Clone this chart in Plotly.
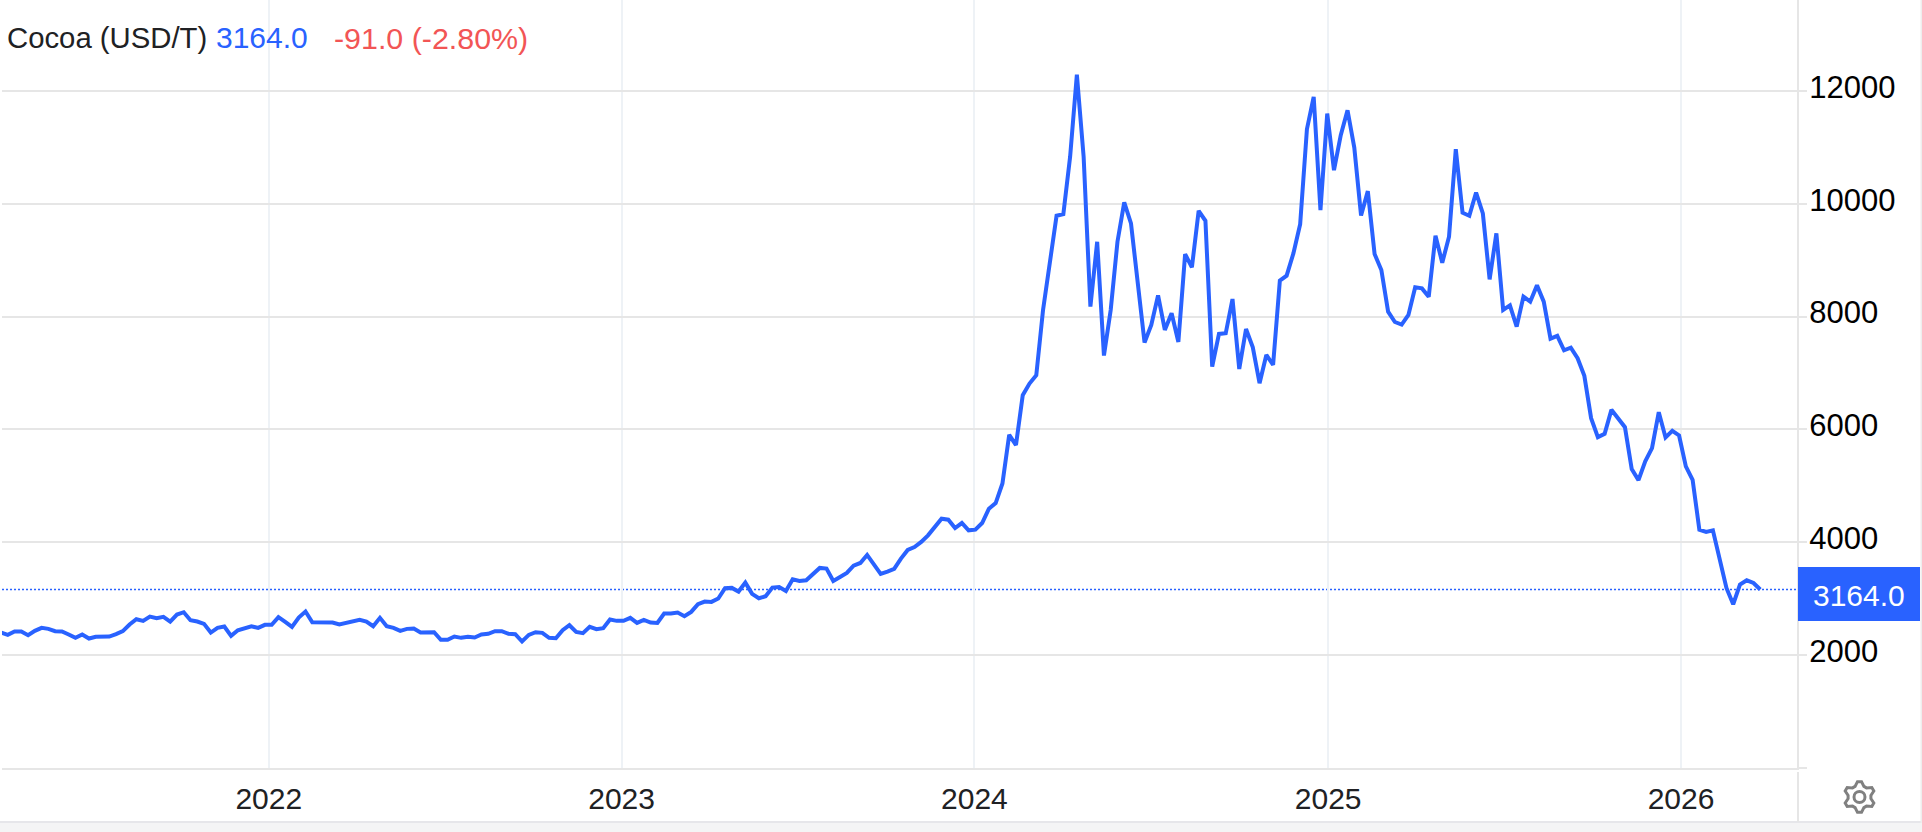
import math
import pandas as pd
import plotly.graph_objects as go

SERIES_NAME = "Cocoa (USD/T)"
LAST_VALUE = 3164.0
CHANGE_TEXT = "-91.0 (-2.80%)"
LAST_DATE = "2026-03-24"
YEAR_TICKS = ["2022-01-01", "2023-01-01", "2024-01-01", "2025-01-01", "2026-01-01"]
YEAR_LABELS = ["2022", "2023", "2024", "2025", "2026"]
Y_TICKS = [0, 2000, 4000, 6000, 8000, 10000, 12000]
Y_LABELS = ["", "2000", "4000", "6000", "8000", "10000", "12000"]

values_2021 = [2401, 2360, 2419, 2419, 2354, 2431, 2484, 2466, 2425, 2419, 2366, 2307, 2366, 2295, 2325, 2330,
               2330, 2372, 2425, 2543, 2637, 2608, 2684, 2655, 2678, 2596, 2720, 2761, 2620, 2596, 2555, 2401,
               2484, 2507, 2342, 2442, 2472, 2513, 2484, 2537, 2537, 2673, 2590, 2501, 2667, 2773, 2584, 2584, 2590]
values_2022 = [2578, 2543, 2566, 2602, 2625, 2596, 2513, 2661, 2513, 2484, 2431, 2466, 2472, 2401, 2401, 2407,
               2271, 2271, 2330, 2307, 2325, 2313, 2366, 2378, 2425, 2425, 2378, 2372, 2242, 2360, 2407, 2395,
               2307, 2301, 2442, 2531, 2413, 2389, 2501, 2460, 2478, 2631, 2608, 2608, 2661, 2572, 2625, 2578, 2572]
values_2023 = [2737, 2737, 2755, 2690, 2767, 2903, 2950, 2944, 3003, 3186, 3192, 3127, 3286, 3086, 3009, 3044,
               3198, 3209, 3139, 3345, 3316, 3327, 3440, 3546, 3534, 3316, 3386, 3457, 3587, 3634, 3776, 3611,
               3440, 3481, 3528, 3711, 3864, 3917, 4006, 4124, 4283, 4419, 4401, 4254, 4342, 4212, 4224, 4342,
               4596, 4696]
values_2024 = [5044, 5906, 5723, 6608, 6814, 6962, 8118, 9003, 9788, 9817, 10832, 12290, 10832, 8177, 9327, 7310,
               8118, 9327, 10024, 9652, 8590, 7540, 7852, 8377, 7764, 8059, 7551, 9109, 8873, 9876, 9699, 7115,
               7693, 7705, 8312, 7073, 7781, 7457, 6820, 7321, 7144, 8637, 8726, 9121, 9640, 11322, 11894, 9888,
               11599, 10596, 11215, 11658, 10997]
values_2025 = [9793, 10224, 9109, 8826, 8088, 7905, 7858, 8029, 8519, 8501, 8354, 9434, 8956, 9416, 10968, 9841,
               9788, 10200, 9829, 8661, 9475, 8118, 8200, 7823, 8354, 8265, 8554, 8265, 7610, 7658, 7404, 7451,
               7262, 6950, 6200, 5864, 5923, 6348, 6183, 6041, 5298, 5103, 5434, 5670, 6307, 5858, 5976, 5894]
values_2026 = [5345, 5109, 4224, 4183, 4212, 3693, 3192, 2902, 3250, 3327, 3280, 3164]

values = values_2021 + values_2022 + values_2023 + values_2024 + values_2025 + values_2026
dates = pd.date_range(end=LAST_DATE, periods=len(values), freq="7D")

W, H = 1922, 832
L, R, B = 2, 1797, 768
BLUE = "#2962ff"
GRID = "#e6e6e6"
VGRID = "#eef2f6"


def px(x):
    return (x - L) / (R - L)


def py(y):
    return 1 - y / B


def rect(x0, y0, x1, y1, color, layer="above"):
    return dict(type="rect", xref="paper", yref="paper", x0=px(x0), x1=px(x1), y0=py(y0), y1=py(y1),
                fillcolor=color, line_width=0, layer=layer)


def gear_path(cx, cy, r_out, r_in, teeth=6):
    pts = []
    n = teeth * 4
    for i in range(n):
        a = 2 * math.pi * (i - 0.5) / n - math.pi / 2
        r = r_out if i % 4 in (0, 1) else r_in
        pts.append((cx + r * math.cos(a), cy + r * math.sin(a)))
    return "M " + " L ".join(f"{px(x):.5f},{py(y):.5f}" for x, y in pts) + " Z"


shapes = [
    rect(0, 7, 535, 75, "white", "below"),
    dict(type="line", xref="paper", yref="y", x0=0, x1=1, y0=LAST_VALUE, y1=LAST_VALUE,
         line=dict(color=BLUE, width=1.5, dash="2px,2px"), layer="below"),
    rect(1798, 567, 1920, 621, BLUE),
    rect(0, 822, W, 832, "#f4f4f5"),
    rect(0, 821, W, 823, "#e6e6ea"),
    rect(1797, 772, 1799, 822, GRID),
    rect(1920.5, 0, 1922, 823, "#eeeeee"),
    dict(type="path", xref="paper", yref="paper", path=gear_path(1859.5, 797, 15.5, 11.5),
         line=dict(color="#808080", width=3)),
    dict(type="circle", xref="paper", yref="paper", x0=px(1854), x1=px(1865), y0=py(802.5), y1=py(791.5),
         line=dict(color="#808080", width=3)),
]

FONT = "Liberation Sans, Helvetica, Arial, sans-serif"


def label(x, y, text, color, anchor="left", size=30):
    return dict(xref="paper", yref="paper", x=px(x), y=py(y), text=text, showarrow=False,
                xanchor=anchor, yanchor="middle", font=dict(family=FONT, size=size, color=color))


annotations = [
    label(5, 38, SERIES_NAME, "#202124", size=29.3),
    label(214, 38, f"{LAST_VALUE:.1f}", BLUE),
    label(332, 38, CHANGE_TEXT, "#f25555", size=30.4),
    label(1859, 595, f"{LAST_VALUE:.1f}", "white", "center"),
]

fig = go.Figure(go.Scatter(x=dates, y=values, mode="lines",
                           line=dict(color=BLUE, width=4), hoverinfo="skip", showlegend=False))

fig.update_layout(
    width=W, height=H,
    margin=dict(l=L, r=W - R, t=0, b=H - B, pad=0),
    paper_bgcolor="white", plot_bgcolor="white",
    shapes=shapes, annotations=annotations,
    font=dict(family=FONT, size=30),
)
fig.update_xaxes(
    type="date", range=["2021-03-31", "2026-05-01"],
    tickmode="array", tickvals=YEAR_TICKS, ticktext=YEAR_LABELS,
    showgrid=True, gridcolor=VGRID, gridwidth=2,
    showline=True, linecolor=GRID, linewidth=2,
    ticks="", ticklabelstandoff=3, zeroline=False,
    tickfont=dict(family=FONT, size=30, color="#202124"),
)
fig.update_yaxes(
    side="right", range=[0, 13612],
    tickmode="array", tickvals=Y_TICKS, ticktext=Y_LABELS,
    showgrid=True, gridcolor=GRID, gridwidth=2,
    showline=True, linecolor=GRID, linewidth=2,
    ticks="outside", ticklen=8, tickwidth=2, tickcolor=GRID, zeroline=False,
    ticklabelstandoff=-4, ticklabelshift=-4,
    tickfont=dict(family=FONT, size=31, color="#000000"),
)

fig.write_html("out.html", config=dict(displayModeBar=False),
               post_script="document.body.style.margin='0';document.documentElement.style.overflow='hidden';")
